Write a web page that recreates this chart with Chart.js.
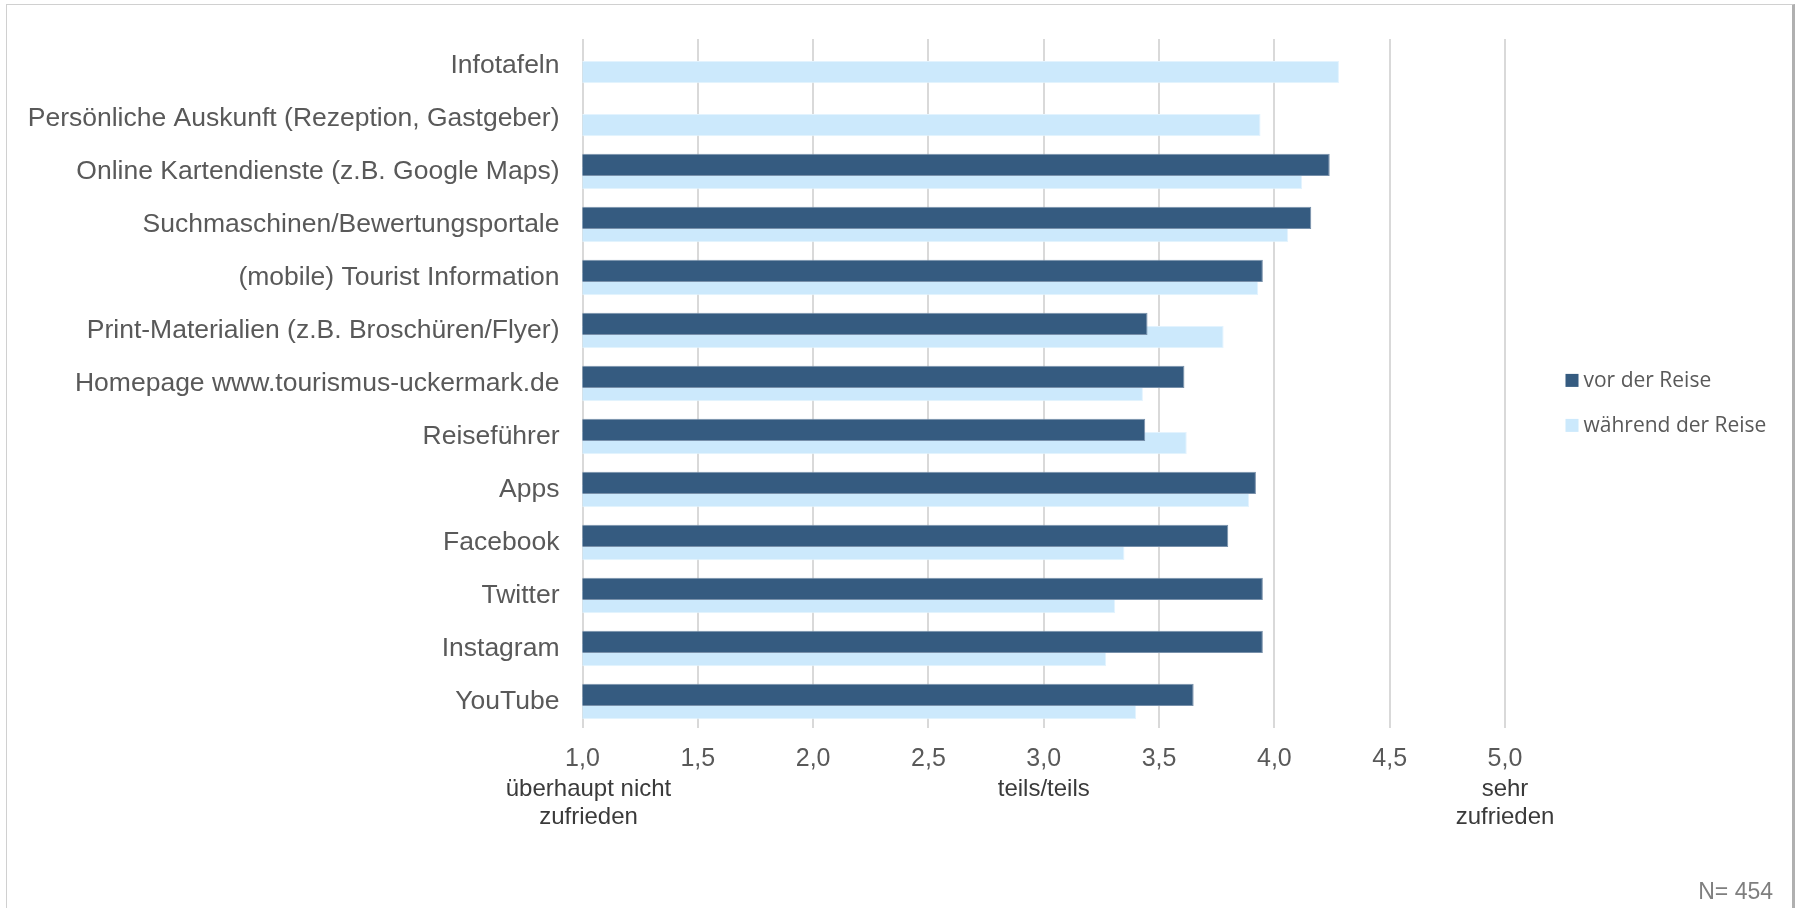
<!DOCTYPE html>
<html>
<head>
<meta charset="utf-8">
<script src="https://cdn.jsdelivr.net/npm/chart.js@4.4.1/dist/chart.umd.min.js"></script>
<style>
  html, body { margin: 0; padding: 0; background: #ffffff; overflow: hidden; }
  #wrap { position: relative; width: 1799px; height: 908px; }
  canvas { position: absolute; left: 0; top: 0; }
  #frame {
    position: absolute; left: 6px; top: 4px; width: 1789px; height: 930px;
    border-left: 1px solid #d0d0d0; border-top: 1px solid #d0d0d0; border-right: 3px solid #b0b0b0;
    box-sizing: border-box; pointer-events: none;
  }
</style>
</head>
<body>
<div id="wrap">
  <canvas id="chart" width="1799" height="908"></canvas>
  <div id="frame"></div>
</div>
<script>
// Information sources rated by satisfaction (1 = not at all, 5 = very satisfied)
const categories = [
  'Infotafeln',
  'Persönliche Auskunft (Rezeption, Gastgeber)',
  'Online Kartendienste (z.B. Google Maps)',
  'Suchmaschinen/Bewertungsportale',
  '(mobile) Tourist Information',
  'Print-Materialien (z.B. Broschüren/Flyer)',
  'Homepage www.tourismus-uckermark.de',
  'Reiseführer',
  'Apps',
  'Facebook',
  'Twitter',
  'Instagram',
  'YouTube'
];

const vorDerReise      = [null, null, 4.24, 4.16, 3.95, 3.45, 3.61, 3.44, 3.92, 3.80, 3.95, 3.95, 3.65];
const waehrendDerReise = [4.28, 3.94, 4.12, 4.06, 3.93, 3.78, 3.43, 3.62, 3.89, 3.35, 3.31, 3.27, 3.40];

const seriesNames = ['vor der Reise', 'während der Reise'];
const seriesColors = ['#355b80', '#cce9fc'];

// Verbal anchors printed under selected scale values
const scaleAnchorValues = [1, 3, 5];
const scaleAnchorLabels = [['überhaupt nicht', 'zufrieden'], ['teils/teils'], ['sehr', 'zufrieden']];

const sampleNote = 'N= 454';

const FONT = "'Liberation Sans', Arial, sans-serif";

// Verbal anchors below the value axis (the first one sits a little right of its gridline)
const anchorPlugin = {
  id: 'anchorLabels',
  afterDraw(chart) {
    const { ctx, chartArea, scales } = chart;
    const nudge = [6, 0, 0];
    ctx.save();
    ctx.font = '24px ' + FONT;
    ctx.fillStyle = '#3a3a3a';
    ctx.textAlign = 'center';
    ctx.textBaseline = 'alphabetic';
    scaleAnchorValues.forEach((v, i) => {
      const x = scales.x.getPixelForValue(v) + nudge[i];
      scaleAnchorLabels[i].forEach((line, j) => {
        ctx.fillText(line, x, chartArea.bottom + 68 + j * 28);
      });
    });
    ctx.restore();
  }
};

// Legend to the right of the plot, plus the sample size note
const sideLegendPlugin = {
  id: 'sideLegend',
  afterDraw(chart) {
    const { ctx, chartArea } = chart;
    ctx.save();
    chart.data.datasets.forEach((ds, i) => {
      const x = chartArea.right + 60.5;
      const y = chartArea.top + 335 + i * 45;
      ctx.fillStyle = ds.backgroundColor;
      ctx.fillRect(x, y, 13, 13);
      ctx.fillStyle = '#595959';
      ctx.font = "21px 'Open Sans', sans-serif";
      ctx.textAlign = 'left';
      ctx.textBaseline = 'alphabetic';
      ctx.fillText(ds.label, x + 18, y + 13);
    });
    ctx.font = '23px ' + FONT;
    ctx.fillStyle = '#7f7f7f';
    ctx.textAlign = 'right';
    ctx.fillText(sampleNote, chart.width - 26, chart.height - 9);
    ctx.restore();
  }
};

new Chart(document.getElementById('chart'), {
  type: 'bar',
  data: {
    labels: categories,
    datasets: [
      {
        label: seriesNames[0],
        data: vorDerReise,
        backgroundColor: seriesColors[0],
        borderColor: '#7890aa',
        borderWidth: 1
      },
      {
        label: seriesNames[1],
        data: waehrendDerReise,
        backgroundColor: seriesColors[1],
        borderColor: '#e3f3fe',
        borderWidth: 1
      }
    ]
  },
  options: {
    indexAxis: 'y',
    responsive: false,
    animation: false,
    devicePixelRatio: 1,
    categoryPercentage: 0.5,
    barPercentage: 1.68,
    layout: { padding: { top: 34, right: 294, bottom: 60, left: 0 } },
    plugins: {
      legend: { display: false },
      tooltip: { enabled: false }
    },
    scales: {
      x: {
        type: 'linear',
        min: 1,
        max: 5,
        ticks: {
          stepSize: 0.5,
          padding: 16,
          color: '#595959',
          font: { family: FONT, size: 25 },
          callback: (v) => Number(v).toFixed(1).replace('.', ',')
        },
        grid: { color: '#d9d9d9', lineWidth: 2, drawTicks: false },
        border: { display: false },
        afterFit(scale) { scale.height = 120; }
      },
      y: {
        ticks: {
          padding: 23,
          color: '#595959',
          font: { family: FONT, size: 26.5 }
        },
        grid: { display: false, drawTicks: false },
        border: { display: false },
        afterFit(scale) { scale.width = 582.5; }
      }
    }
  },
  plugins: [anchorPlugin, sideLegendPlugin]
});
</script>
</body>
</html>
